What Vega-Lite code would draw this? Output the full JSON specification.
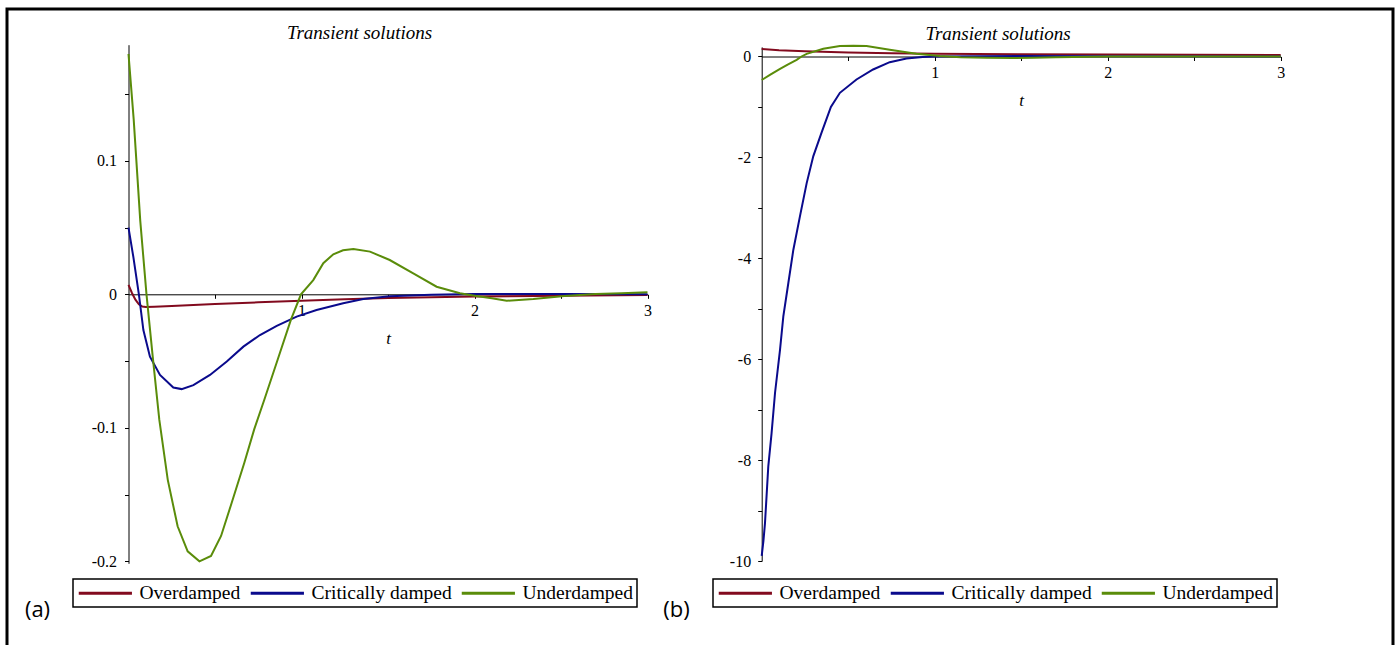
{
  "$schema": "https://vega.github.io/schema/vega-lite/v6.json",
  "autosize": {"type": "none"},
  "padding": {"left": 7, "top": 9, "right": 4, "bottom": 0},
  "width": 1386,
  "height": 640,
  "background": "white",
  "config": {
    "view": {"stroke": "black", "strokeWidth": 3},
    "axis": {
      "domainColor": "black", "domainWidth": 1, "tickColor": "black", "tickWidth": 1, "tickSize": 4,
      "labelFont": "Liberation Serif", "labelFontSize": 16, "labelColor": "black",
      "labelFlush": false, "labelOverlap": false, "grid": false,
      "titleColor": "black", "titleFontWeight": "normal"
    },
    "legend": {
      "orient": "none", "direction": "horizontal", "strokeColor": "black", "strokeWidth": 1.5,
      "padding": 4, "symbolType": "M-3.8,0H3.8", "symbolSize": 196, "symbolStrokeWidth": 3,
      "symbolOffset": 18.6, "labelOffset": 24.4, "labelFont": "Liberation Serif", "labelFontSize": 19.5,
      "labelColor": "black", "columnPadding": 3, "labelLimit": 400
    }
  },
  "datasets": {
    "a": [
      {"s": "Overdamped", "t": 0, "y": 0.007},
      {"s": "Overdamped", "t": 0.02, "y": 0.001},
      {"s": "Overdamped", "t": 0.04, "y": -0.004},
      {"s": "Overdamped", "t": 0.06, "y": -0.0075},
      {"s": "Overdamped", "t": 0.08, "y": -0.0092},
      {"s": "Overdamped", "t": 0.1, "y": -0.0095},
      {"s": "Overdamped", "t": 0.15, "y": -0.0093},
      {"s": "Overdamped", "t": 0.25, "y": -0.0088},
      {"s": "Overdamped", "t": 0.5, "y": -0.0073},
      {"s": "Overdamped", "t": 0.75, "y": -0.006},
      {"s": "Overdamped", "t": 1.0, "y": -0.0048},
      {"s": "Overdamped", "t": 1.25, "y": -0.0037},
      {"s": "Overdamped", "t": 1.5, "y": -0.0028},
      {"s": "Overdamped", "t": 1.75, "y": -0.0022},
      {"s": "Overdamped", "t": 2.0, "y": -0.0017},
      {"s": "Overdamped", "t": 2.5, "y": -0.0011},
      {"s": "Overdamped", "t": 3.0, "y": -0.0006},
      {"s": "Critically damped", "t": 0, "y": 0.05},
      {"s": "Critically damped", "t": 0.028, "y": 0.028},
      {"s": "Critically damped", "t": 0.06, "y": 0},
      {"s": "Critically damped", "t": 0.086, "y": -0.0268},
      {"s": "Critically damped", "t": 0.124, "y": -0.0467},
      {"s": "Critically damped", "t": 0.182, "y": -0.0604},
      {"s": "Critically damped", "t": 0.259, "y": -0.0698},
      {"s": "Critically damped", "t": 0.307, "y": -0.071},
      {"s": "Critically damped", "t": 0.375, "y": -0.068},
      {"s": "Critically damped", "t": 0.471, "y": -0.0604},
      {"s": "Critically damped", "t": 0.568, "y": -0.0504},
      {"s": "Critically damped", "t": 0.664, "y": -0.0392},
      {"s": "Critically damped", "t": 0.76, "y": -0.0305},
      {"s": "Critically damped", "t": 0.857, "y": -0.0237},
      {"s": "Critically damped", "t": 0.972, "y": -0.0167},
      {"s": "Critically damped", "t": 1.087, "y": -0.0117},
      {"s": "Critically damped", "t": 1.241, "y": -0.0067},
      {"s": "Critically damped", "t": 1.357, "y": -0.0035},
      {"s": "Critically damped", "t": 1.51, "y": -0.0015},
      {"s": "Critically damped", "t": 1.75, "y": -0.0003},
      {"s": "Critically damped", "t": 2.0, "y": 0.0002},
      {"s": "Critically damped", "t": 2.5, "y": 0.0002},
      {"s": "Critically damped", "t": 3.0, "y": 0.0001},
      {"s": "Underdamped", "t": 0, "y": 0.18},
      {"s": "Underdamped", "t": 0.03, "y": 0.131},
      {"s": "Underdamped", "t": 0.068, "y": 0.055},
      {"s": "Underdamped", "t": 0.104, "y": 0},
      {"s": "Underdamped", "t": 0.14, "y": -0.0467},
      {"s": "Underdamped", "t": 0.178, "y": -0.0939},
      {"s": "Underdamped", "t": 0.227, "y": -0.139},
      {"s": "Underdamped", "t": 0.284, "y": -0.1738},
      {"s": "Underdamped", "t": 0.342, "y": -0.1925},
      {"s": "Underdamped", "t": 0.41, "y": -0.2},
      {"s": "Underdamped", "t": 0.477, "y": -0.196},
      {"s": "Underdamped", "t": 0.535, "y": -0.181},
      {"s": "Underdamped", "t": 0.592, "y": -0.158},
      {"s": "Underdamped", "t": 0.67, "y": -0.126},
      {"s": "Underdamped", "t": 0.727, "y": -0.101},
      {"s": "Underdamped", "t": 0.785, "y": -0.079},
      {"s": "Underdamped", "t": 0.862, "y": -0.049},
      {"s": "Underdamped", "t": 0.939, "y": -0.019},
      {"s": "Underdamped", "t": 0.997, "y": 0},
      {"s": "Underdamped", "t": 1.068, "y": 0.0107},
      {"s": "Underdamped", "t": 1.126, "y": 0.0233},
      {"s": "Underdamped", "t": 1.184, "y": 0.03},
      {"s": "Underdamped", "t": 1.24, "y": 0.033},
      {"s": "Underdamped", "t": 1.3, "y": 0.034},
      {"s": "Underdamped", "t": 1.396, "y": 0.032},
      {"s": "Underdamped", "t": 1.51, "y": 0.0257},
      {"s": "Underdamped", "t": 1.646, "y": 0.0157},
      {"s": "Underdamped", "t": 1.781, "y": 0.0057},
      {"s": "Underdamped", "t": 1.916, "y": 0.0008},
      {"s": "Underdamped", "t": 2.0, "y": -0.001},
      {"s": "Underdamped", "t": 2.1, "y": -0.003},
      {"s": "Underdamped", "t": 2.186, "y": -0.0048},
      {"s": "Underdamped", "t": 2.34, "y": -0.0035},
      {"s": "Underdamped", "t": 2.52, "y": -0.0012},
      {"s": "Underdamped", "t": 2.7, "y": 0.0003},
      {"s": "Underdamped", "t": 2.85, "y": 0.0008},
      {"s": "Underdamped", "t": 3.0, "y": 0.0015}
    ],
    "b": [
      {"s": "Overdamped", "t": 0, "y": 0.15},
      {"s": "Overdamped", "t": 0.1, "y": 0.125},
      {"s": "Overdamped", "t": 0.25, "y": 0.105},
      {"s": "Overdamped", "t": 0.5, "y": 0.08},
      {"s": "Overdamped", "t": 0.75, "y": 0.065},
      {"s": "Overdamped", "t": 1.0, "y": 0.055},
      {"s": "Overdamped", "t": 1.5, "y": 0.045},
      {"s": "Overdamped", "t": 2.0, "y": 0.037},
      {"s": "Overdamped", "t": 2.5, "y": 0.032},
      {"s": "Overdamped", "t": 3.0, "y": 0.028},
      {"s": "Critically damped", "t": 0, "y": -9.9},
      {"s": "Critically damped", "t": 0.01, "y": -9.6},
      {"s": "Critically damped", "t": 0.019, "y": -9.25},
      {"s": "Critically damped", "t": 0.038, "y": -8.13},
      {"s": "Critically damped", "t": 0.057, "y": -7.47},
      {"s": "Critically damped", "t": 0.077, "y": -6.67},
      {"s": "Critically damped", "t": 0.106, "y": -5.81},
      {"s": "Critically damped", "t": 0.125, "y": -5.15},
      {"s": "Critically damped", "t": 0.154, "y": -4.49},
      {"s": "Critically damped", "t": 0.183, "y": -3.83},
      {"s": "Critically damped", "t": 0.221, "y": -3.17},
      {"s": "Critically damped", "t": 0.26, "y": -2.51},
      {"s": "Critically damped", "t": 0.298, "y": -1.98},
      {"s": "Critically damped", "t": 0.346, "y": -1.51},
      {"s": "Critically damped", "t": 0.4, "y": -1.0},
      {"s": "Critically damped", "t": 0.452, "y": -0.72},
      {"s": "Critically damped", "t": 0.548, "y": -0.456},
      {"s": "Critically damped", "t": 0.644, "y": -0.258},
      {"s": "Critically damped", "t": 0.74, "y": -0.113},
      {"s": "Critically damped", "t": 0.837, "y": -0.04},
      {"s": "Critically damped", "t": 0.93, "y": -0.01},
      {"s": "Critically damped", "t": 1.0, "y": 0},
      {"s": "Critically damped", "t": 1.5, "y": 0.01},
      {"s": "Critically damped", "t": 2.0, "y": 0.005},
      {"s": "Critically damped", "t": 3.0, "y": 0},
      {"s": "Underdamped", "t": 0, "y": -0.466},
      {"s": "Underdamped", "t": 0.05, "y": -0.36},
      {"s": "Underdamped", "t": 0.106, "y": -0.247},
      {"s": "Underdamped", "t": 0.15, "y": -0.16},
      {"s": "Underdamped", "t": 0.202, "y": -0.067},
      {"s": "Underdamped", "t": 0.23, "y": 0},
      {"s": "Underdamped", "t": 0.26, "y": 0.053},
      {"s": "Underdamped", "t": 0.356, "y": 0.153},
      {"s": "Underdamped", "t": 0.452, "y": 0.207},
      {"s": "Underdamped", "t": 0.53, "y": 0.215},
      {"s": "Underdamped", "t": 0.606, "y": 0.207},
      {"s": "Underdamped", "t": 0.74, "y": 0.133},
      {"s": "Underdamped", "t": 0.894, "y": 0.053},
      {"s": "Underdamped", "t": 1.03, "y": 0.01},
      {"s": "Underdamped", "t": 1.15, "y": -0.015},
      {"s": "Underdamped", "t": 1.3, "y": -0.027},
      {"s": "Underdamped", "t": 1.45, "y": -0.03},
      {"s": "Underdamped", "t": 1.57, "y": -0.027},
      {"s": "Underdamped", "t": 1.7, "y": -0.015},
      {"s": "Underdamped", "t": 2.0, "y": 0},
      {"s": "Underdamped", "t": 2.5, "y": 0.002},
      {"s": "Underdamped", "t": 3.0, "y": 0}
    ]
  },
  "resolve": {
    "scale": {"x": "independent", "y": "independent", "color": "independent"},
    "axis": {"x": "independent", "y": "independent"},
    "legend": {"color": "independent"}
  },
  "layer": [
    {
      "data": {"name": "a"},
      "mark": {"type": "line", "strokeWidth": 2},
      "encoding": {
        "x": {"field": "t", "type": "quantitative",
          "scale": {"domain": [0, 3], "range": [121.5, 640.5], "nice": false, "zero": false},
          "axis": {"orient": "bottom", "offset": -354.7, "values": [0.5, 1, 1.5, 2, 2.5, 3],
            "labelExpr": "datum.value >= 1 && datum.value == round(datum.value) ? datum.value + '' : ''",
            "labelPadding": 4,
            "title": "t", "titleFont": "Liberation Serif", "titleFontStyle": "italic", "titleFontSize": 17,
            "titleY": 48.7, "titleBaseline": "alphabetic"}},
        "y": {"field": "y", "type": "quantitative",
          "scale": {"domain": [-0.2015, 0.187], "range": [554.3, 35.7], "nice": false, "zero": false},
          "axis": {"orient": "left", "offset": -121.5, "values": [-0.2, -0.15, -0.1, -0.05, 0, 0.05, 0.1, 0.15],
            "labelExpr": "abs(datum.value*10 - round(datum.value*10)) < 0.000001 ? (datum.value < 0 ? '-' + abs(datum.value) : datum.value + '') : ''",
            "labelPadding": 8,
            "title": "Transient solutions", "titleAngle": 0, "titleX": 230.5, "titleY": 29.5,
            "titleAlign": "center", "titleBaseline": "alphabetic",
            "titleFont": "Liberation Serif", "titleFontStyle": "italic", "titleFontSize": 19}},
        "color": {"field": "s", "type": "nominal",
          "scale": {"domain": ["Overdamped", "Critically damped", "Underdamped"], "range": ["#820A1E", "#0A0A8C", "#5A8C0A"]},
          "legend": {"title": null, "legendX": 66, "legendY": 570}}
      }
    },
    {
      "data": {"name": "b"},
      "mark": {"type": "line", "strokeWidth": 2},
      "encoding": {
        "x": {"field": "t", "type": "quantitative",
          "scale": {"domain": [0, 3], "range": [754.7, 1273.7], "nice": false, "zero": false},
          "axis": {"orient": "bottom", "offset": -592.5, "values": [0.5, 1, 1.5, 2, 2.5, 3],
            "labelExpr": "datum.value >= 1 && datum.value == round(datum.value) ? datum.value + '' : ''",
            "labelPadding": 4,
            "title": "t", "titleFont": "Liberation Serif", "titleFontStyle": "italic", "titleFontSize": 17,
            "titleY": 48.5, "titleBaseline": "alphabetic"}},
        "y": {"field": "y", "type": "quantitative",
          "scale": {"domain": [-10, 0.19], "range": [552, 37.9], "nice": false, "zero": false},
          "axis": {"orient": "left", "offset": -754.7, "values": [-10, -9, -8, -7, -6, -5, -4, -3, -2, -1, 0],
            "labelExpr": "datum.value % 2 == 0 ? datum.value + '' : ''",
            "labelPadding": 7,
            "title": "Transient solutions", "titleAngle": 0, "titleX": 235.8, "titleY": 30.5,
            "titleAlign": "center", "titleBaseline": "alphabetic",
            "titleFont": "Liberation Serif", "titleFontStyle": "italic", "titleFontSize": 19}},
        "color": {"field": "s", "type": "nominal",
          "scale": {"domain": ["Overdamped", "Critically damped", "Underdamped"], "range": ["#820A1E", "#0A0A8C", "#5A8C0A"]},
          "legend": {"title": null, "legendX": 706, "legendY": 570}}
      }
    },
    {
      "data": {"values": [{"k": 0}]},
      "mark": {"type": "point", "opacity": 0, "size": 0},
      "encoding": {
        "x": {"datum": 0, "type": "quantitative",
          "scale": {"domain": [0, 1], "range": [0, 1386], "nice": false, "zero": false},
          "axis": {"orient": "bottom", "offset": 0, "domain": false, "ticks": false, "labels": false,
            "title": "(a)", "titleX": 30, "titleY": -40, "titleAngle": 0, "titleAlign": "center",
            "titleBaseline": "middle", "titleFont": "Open Sans", "titleFontSize": 22}},
        "y": {"datum": 0, "type": "quantitative",
          "scale": {"domain": [0, 1], "range": [640, 0], "nice": false, "zero": false},
          "axis": {"orient": "left", "offset": 0, "domain": false, "ticks": false, "labels": false,
            "title": "(b)", "titleX": 669, "titleY": 600, "titleAngle": 0, "titleAlign": "center",
            "titleBaseline": "middle", "titleFont": "Open Sans", "titleFontSize": 22}}
      }
    }
  ]
}
